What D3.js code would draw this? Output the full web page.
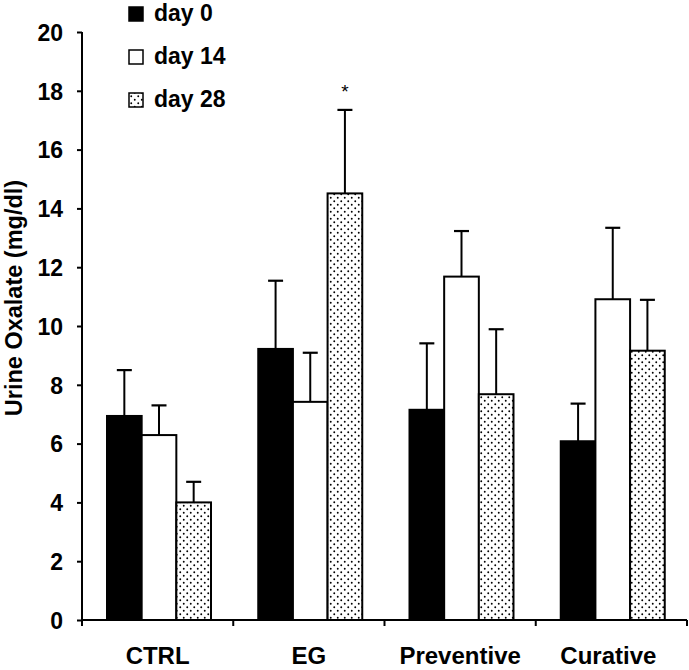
<!DOCTYPE html>
<html>
<head>
<meta charset="utf-8">
<script src="https://cdn.jsdelivr.net/npm/d3@7"></script>
<style>
  html, body { margin: 0; padding: 0; background: #fff; }
  svg { display: block; }
  text { font-family: "Liberation Sans", Arial, sans-serif; font-weight: bold; fill: #000; }
</style>
</head>
<body>
<svg id="chart" width="689" height="670"></svg>
<script>
const categories = ["CTRL", "EG", "Preventive", "Curative"];
const seriesNames = ["day 0", "day 14", "day 28"];
const day0 = [6.94, 9.22, 7.15, 6.08];
const day14 = [6.29, 7.42, 11.68, 10.91];
const day28 = [4.0, 14.51, 7.68, 9.16];
const err0 = [1.56, 2.32, 2.26, 1.28];
const err14 = [1.01, 1.67, 1.55, 2.43];
const err28 = [0.70, 2.84, 2.21, 1.73];
const yTicks = [0, 2, 4, 6, 8, 10, 12, 14, 16, 18, 20];
const yLabel = "Urine Oxalate (mg/dl)";
const significance = [{ category: "EG", series: "day 28", mark: "*" }];

(function () {
const values = [day0, day14, day28];
const errors = [err0, err14, err28];
const fills = ["#000", "#fff", "url(#dots)"];

const svg = d3.select("#chart");
const defs = svg.append("defs");
const pat = defs.append("pattern").attr("id", "dots").attr("patternUnits", "userSpaceOnUse")
  .attr("width", 7).attr("height", 7);
pat.append("rect").attr("width", 7).attr("height", 7).attr("fill", "#fff");
pat.append("circle").attr("cx", 1.75).attr("cy", 1.75).attr("r", 0.95).attr("fill", "#000");
pat.append("circle").attr("cx", 5.25).attr("cy", 5.25).attr("r", 0.95).attr("fill", "#000");

const mLeft = 82, mRight = 687, mTop = 32, mBottom = 620;
const y = d3.scaleLinear().domain([0, 20]).range([mBottom, mTop]);
const x0 = d3.scaleBand().domain(categories).range([mLeft, mRight]).padding(0);
const x1 = d3.scaleBand().domain(seriesNames).range([25, 129]).padding(0);

const data = [];
categories.forEach((c, i) => {
  seriesNames.forEach((s, j) => {
    data.push({ c, s, j, v: values[j][i], e: errors[j][i] });
  });
});

const eg = svg.append("g");
data.forEach(d => {
  const cx = x0(d.c) + x1(d.s) + x1.bandwidth() / 2;
  eg.append("line").attr("x1", cx).attr("x2", cx).attr("y1", y(d.v)).attr("y2", y(d.v + d.e))
    .attr("stroke", "#000").attr("stroke-width", 2);
  eg.append("line").attr("x1", cx - 7.5).attr("x2", cx + 7.5).attr("y1", y(d.v + d.e)).attr("y2", y(d.v + d.e))
    .attr("stroke", "#000").attr("stroke-width", 2.2);
});

svg.append("g").selectAll("rect").data(data).join("rect")
  .attr("x", d => x0(d.c) + x1(d.s))
  .attr("width", x1.bandwidth())
  .attr("y", d => y(d.v))
  .attr("height", d => y(0) - y(d.v))
  .attr("fill", d => fills[d.j])
  .attr("stroke", "#000").attr("stroke-width", 2);

significance.forEach(m => {
  const i = categories.indexOf(m.category), j = seriesNames.indexOf(m.series);
  const cx = x0(m.category) + x1(m.series) + x1.bandwidth() / 2;
  svg.append("text").attr("x", cx).attr("y", y(values[j][i] + errors[j][i]) - 12)
    .attr("text-anchor", "middle").style("font-weight", "normal").style("font-size", "19px").text(m.mark);
});

const yAxis = svg.append("g").attr("transform", `translate(${mLeft},0)`)
  .call(d3.axisLeft(y).tickValues(yTicks).tickSize(5).tickPadding(14).tickFormat(d3.format("d")));
yAxis.select(".domain").attr("stroke-width", 2).attr("d", `M0,${mTop}V${mBottom}`);
yAxis.selectAll(".tick line").attr("stroke-width", 2);
yAxis.selectAll("text").style("font-size", "23px").style("font-family", "'Liberation Sans', Arial, sans-serif")
  .style("font-weight", "bold").attr("dy", "0.36em");

const xAxis = svg.append("g").attr("transform", `translate(0,${mBottom})`);
xAxis.append("line").attr("x1", mLeft).attr("x2", mRight).attr("y1", 0).attr("y2", 0)
  .attr("stroke", "#000").attr("stroke-width", 2);
const bounds = categories.map(c => x0(c)).concat([mRight]);
xAxis.selectAll(".bt").data(bounds).join("line")
  .attr("x1", d => d).attr("x2", d => d).attr("y1", 0).attr("y2", 6)
  .attr("stroke", "#000").attr("stroke-width", 2);
xAxis.selectAll(".xl").data(categories).join("text")
  .attr("x", d => x0(d) + x0.bandwidth() / 2 + (d === "Curative" ? -3 : 0))
  .attr("y", 44).attr("text-anchor", "middle").style("font-size", "24px")
  .text(d => d);

svg.append("text").attr("transform", "translate(22,298) rotate(-90)")
  .attr("text-anchor", "middle").style("font-size", "23.5px").text(yLabel);

const lg = svg.append("g");
seriesNames.forEach((s, j) => {
  const base = 21 + j * 43;
  lg.append("rect").attr("x", 129).attr("y", base - 14).attr("width", 14).attr("height", 14)
    .attr("fill", fills[j]).attr("stroke", "#000").attr("stroke-width", 1.5);
  lg.append("text").attr("x", 154).attr("y", base)
    .style("font-size", "23px").text(s);
});
})();
</script>
</body>
</html>
